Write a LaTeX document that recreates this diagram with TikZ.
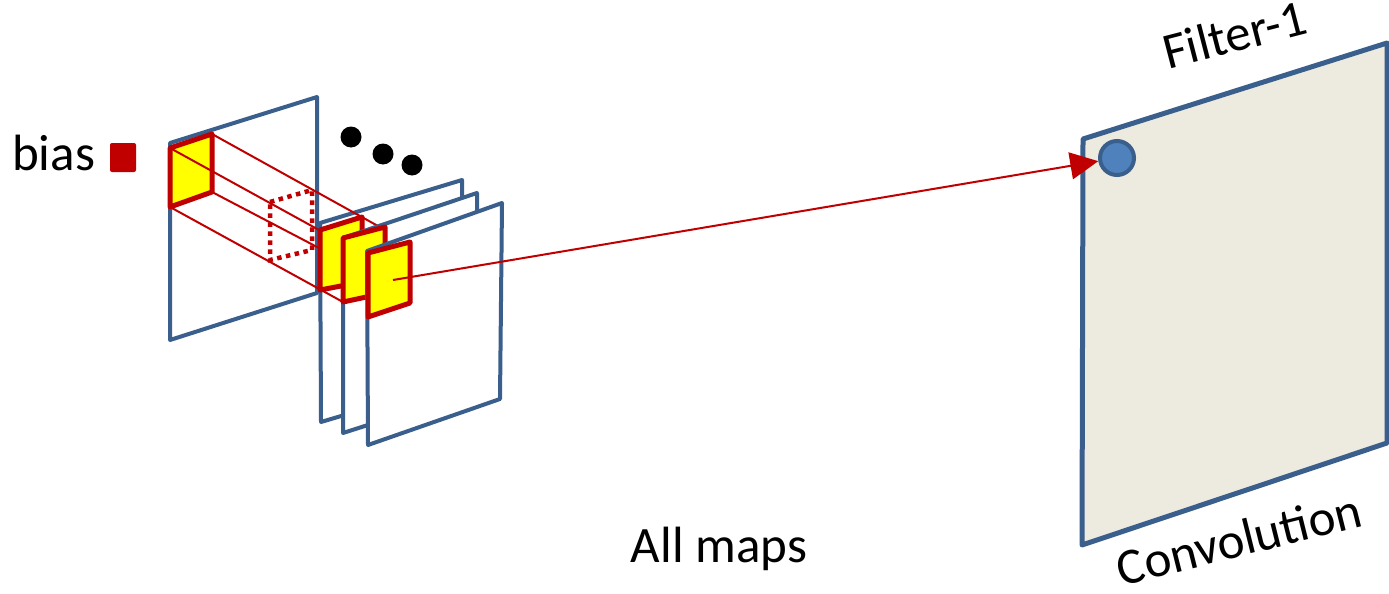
\documentclass[tikz,border=0pt]{standalone}
\usepackage{fontspec}
\setmainfont{Carlito}
\usetikzlibrary{arrows.meta}
\definecolor{planeblue}{HTML}{3A5F8C}
\definecolor{patchred}{HTML}{C00000}
\definecolor{patchyellow}{HTML}{FFFF00}
\definecolor{panelbg}{HTML}{EDEBE0}
\definecolor{unitblue}{HTML}{4F81BD}
\begin{document}
\begin{tikzpicture}[x=1pt,y=-1pt,
  plane/.style={draw=planeblue, line width=4pt, fill=white, line join=round},
  patch/.style={draw=patchred, line width=5pt, fill=patchyellow, line join=round},
  ray/.style={draw=patchred, line width=2pt},
  dotbox/.style={draw=patchred, line width=4.5pt, dash pattern=on 4.5pt off 4.5pt},
  lbl/.style={font=\fontsize{51}{60}\selectfont, inner sep=0pt},
  dotmark/.style={circle, fill=black, minimum size=21pt, inner sep=0pt}]
\useasboundingbox (0,0) rectangle (1389,594);

% square A corners
\coordinate (Atl) at (170,148);
\coordinate (Atr) at (212,134);
\coordinate (Abr) at (212,192);
\coordinate (Abl) at (170,207);
% end points of the rays
\coordinate (Btl) at (319,230);
\coordinate (Bml) at (319,248);
\coordinate (Ctr) at (378,226);
\coordinate (Cbl) at (343,302);
\coordinate (dsrc) at (393,280);

% plane 1 with patch A
\draw[plane] (170,143) -- (317,97) -- (317,293) -- (170,340) -- cycle;
\draw[patch] (Atl) -- (Atr) -- (Abr) -- (Abl) -- cycle;
\draw[ray] (Atl) -- (Btl);
\draw[ray] (Abr) -- (Bml);
\draw[dotbox] (270,202) -- (312,190) -- (312,250) -- (270,260) -- cycle;

% dots
\node[dotmark] (d1) at (351,137) {};
\node[dotmark] (d2) at (383,154) {};
\node[dotmark] (d3) at (412,165) {};

% plane 2 with patch B
\draw[plane] (320,223) -- (462,180) -- (462,380) -- (321,422) -- cycle;
\draw[patch] (320,230) -- (362,217) -- (362,282) -- (320,290) -- cycle;
\draw[ray] (Atr) -- (Ctr);
\draw[ray] (Abl) -- (Cbl);

% plane 3 with patch C
\draw[plane] (343,238) -- (477,193) -- (477,390) -- (343,433) -- cycle;
\draw[patch] (343,238) -- (385,227) -- (385,293) -- (343,302) -- cycle;

% plane 4 with patch D
\draw[plane] (367,251) -- (502,203) -- (500,399) -- (368,445) -- cycle;
\draw[patch] (368,253) -- (410,242) -- (410,303) -- (368,317) -- cycle;

% output feature map
\draw[draw=planeblue, line width=5pt, fill=panelbg, line join=round]
  (1083,139) -- (1387,43) -- (1387,443) -- (1082,545) -- cycle;
\node[circle, draw=planeblue, line width=4pt, fill=unitblue, minimum size=34pt, inner sep=0pt] (unit) at (1117,158) {};

% connector
\draw[ray, -{Triangle[length=28pt,width=27pt]}] (dsrc) -- (unit);

% labels
\node[lbl, anchor=base west] (bias) at (12,170) {bias};
\node[fill=patchred, rounded corners=2pt, minimum width=26pt, minimum height=29pt, inner sep=0pt] (biasbox) at (123,157.5) {};
\node[lbl, anchor=base] (allmaps) at (719,562) {All maps};
\node[lbl, anchor=base, rotate=14.5] (filt) at (1239,51) {Filter-1};
\node[lbl, anchor=base, rotate=14] (conv) at (1243,556) {Convolution};
\end{tikzpicture}
\end{document}
